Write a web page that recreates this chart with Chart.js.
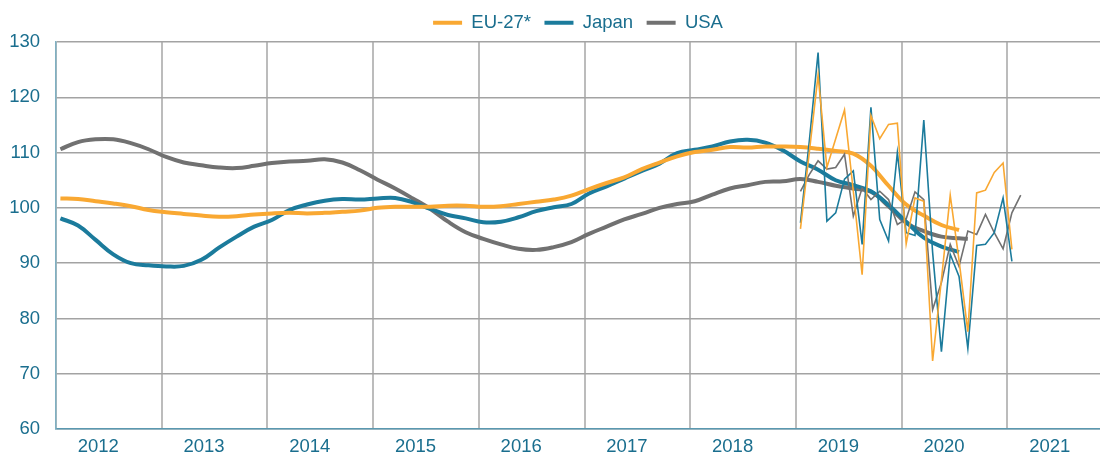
<!DOCTYPE html>
<html>
<head>
<meta charset="utf-8">
<script src="https://cdn.jsdelivr.net/npm/chart.js@4.4.1/dist/chart.umd.min.js"></script>
<style>
  html, body { margin: 0; padding: 0; background: #fff; }
</style>
</head>
<body>
<canvas id="chart" width="1100" height="455"></canvas>
<script>
// month index counted from Jan 2012 (0 = Jan 2012), points sit mid-month
const yearLabels = ['2012', '2013', '2014', '2015', '2016', '2017', '2018', '2019', '2020', '2021'];
const yearStarts = [0, 12, 24, 36, 48, 60, 72, 84, 96, 108];
const yTicks = [60, 70, 80, 90, 100, 110, 120, 130];

// smoothed trend, every second month
const trendMonths = [0, 2, 4, 6, 8, 10, 12, 14, 16, 18, 20, 22, 24, 26, 28, 30, 32, 34, 36, 38, 40, 42,
  44, 46, 48, 50, 52, 54, 56, 58, 60, 62, 64, 66, 68, 70, 72, 74, 76, 78, 80, 82, 84, 86, 88, 90, 92,
  94, 96, 98, 100, 102, 103];
const euTrend = [101.7, 101.6, 101.2, 100.8, 100.3, 99.6, 99.2, 98.9, 98.6, 98.4, 98.5, 98.8, 99.0,
  99.1, 99.0, 99.1, 99.3, 99.5, 100.0, 100.2, 100.2, 100.2, 100.4, 100.4, 100.2, 100.3, 100.7, 101.1,
  101.5, 102.2, 103.4, 104.5, 105.5, 107.0, 108.2, 109.3, 110.1, 110.5, 111.0, 110.9, 111.1, 111.1,
  111.0, 110.7, 110.3, 109.8, 107.6, 104.0, 100.6, 98.6, 96.9, 96.0, null];
const japanTrend = [98.1, 96.8, 94.2, 91.6, 90.0, 89.6, 89.4, 89.5, 90.6, 92.8, 94.8, 96.6, 97.8,
  99.6, 100.6, 101.3, 101.6, 101.5, 101.7, 101.8, 101.0, 99.8, 98.7, 98.1, 97.4, 97.5, 98.3, 99.4,
  100.1, 100.7, 102.6, 103.9, 105.3, 106.7, 108.0, 109.9, 110.5, 111.1, 112.0, 112.3, 111.8, 110.4,
  108.4, 106.9, 105.0, 104.1, 103.0, 100.5, 97.5, 94.6, 93.0, 92.0, null];
const usaTrend = [110.6, 111.9, 112.4, 112.4, 111.7, 110.6, 109.2, 108.2, 107.7, 107.3, 107.2, 107.6,
  108.1, 108.4, 108.5, 108.8, 108.2, 106.8, 105.1, 103.5, 101.7, 99.8, 97.5, 95.6, 94.4, 93.4, 92.6,
  92.4, 92.9, 93.8, 95.3, 96.6, 97.9, 98.9, 100.0, 100.7, 101.2, 102.4, 103.5, 104.1, 104.7, 104.8,
  105.2, 104.7, 104.0, 103.5, 102.9, 100.3, 97.3, 95.8, 94.8, 94.5, 94.4];

// monthly values, Jan 2019 - Feb 2021
const monthlyMonths = [84, 85, 86, 87, 88, 89, 90, 91, 92, 93, 94, 95, 96, 97, 98, 99, 100, 101, 102,
  103, 104, 105, 106, 107, 108, 109];
const euMonthly = [96.2, 110.0, 124.0, 107.3, 112.5, 117.7, 103.0, 87.9, 116.7, 112.5, 115.1, 115.3,
  93.5, 101.8, 101.2, 72.3, 87.0, 102.3, 90.5, 77.6, 102.7, 103.2, 106.4, 108.1, 92.5, null];
const japanMonthly = [97.3, 112.0, 128.1, 97.6, 99.1, 105.2, 106.7, 93.4, 118.2, 97.9, 94.0, 110.0,
  95.5, 95.0, 115.9, 92.0, 74.0, 91.6, 87.6, 74.6, 93.2, 93.4, 95.5, 101.8, 90.3, null];
const usaMonthly = [103.0, 106.0, 108.5, 107.0, 107.3, 109.7, 98.5, 103.6, 101.5, 103.0, 101.5, 97.0,
  98.0, 102.9, 101.5, 81.6, 86.5, 93.4, 89.4, 95.8, 95.2, 98.8, 95.5, 92.6, 99.1, 102.3];

const EU = '#f9a832';
const JP = '#1b7b9c';
const US = '#717171';
const TEXT = '#1a6e8e';
const FONT = { family: '"Liberation Sans", Arial, sans-serif', size: 18.5 };

function pts(months, vals) {
  return months.map((m, i) => ({ x: m + 0.5, y: vals[i] }));
}

function trend(label, color, vals) {
  return {
    label: label, data: pts(trendMonths, vals), borderColor: color, backgroundColor: color,
    borderWidth: 4, pointRadius: 0, tension: 0.4, order: 1
  };
}

function monthly(label, color, vals) {
  return {
    label: label, data: pts(monthlyMonths, vals), borderColor: color, backgroundColor: color,
    borderWidth: 1.6, pointRadius: 0, tension: 0, order: 0
  };
}

const ctx = document.getElementById('chart').getContext('2d');
new Chart(ctx, {
  type: 'line',
  data: {
    datasets: [
      trend('EU-27*', EU, euTrend),
      trend('Japan', JP, japanTrend),
      trend('USA', US, usaTrend),
      monthly('EU-27* monthly', EU, euMonthly),
      monthly('Japan monthly', JP, japanMonthly),
      monthly('USA monthly', US, usaMonthly)
    ]
  },
  options: {
    responsive: false,
    animation: false,
    layout: { padding: 0 },
    plugins: {
      tooltip: { enabled: false },
      legend: {
        fullSize: false,
        labels: {
          boxWidth: 29,
          boxHeight: 4,
          padding: 13.5,
          color: TEXT,
          font: FONT,
          generateLabels: chart => chart.data.datasets.slice(0, 3).map((ds, i) => ({
            text: ds.label, fillStyle: ds.borderColor, strokeStyle: ds.borderColor,
            lineWidth: 0, fontColor: TEXT, datasetIndex: i, hidden: false
          }))
        }
      }
    },
    scales: {
      x: {
        type: 'linear', min: 0, max: 118.5,
        grid: { color: '#bcbcbc', lineWidth: 2, drawTicks: false },
        border: { color: '#5a98b0', width: 1.5 },
        ticks: { display: false },
        afterBuildTicks: s => { s.ticks = yearStarts.map(v => ({ value: v })); },
        afterFit: s => { s.height = 0; }
      },
      xYears: {
        type: 'linear', position: 'bottom', min: 0, max: 118.5,
        grid: { display: false, drawTicks: false },
        border: { display: false },
        ticks: {
          autoSkip: false, maxRotation: 0, padding: 7, color: TEXT, font: FONT,
          callback: (v, i) => yearLabels[i]
        },
        afterBuildTicks: s => { s.ticks = yearStarts.map(v => ({ value: v + 4.8 })); },
        afterFit: s => { s.height = 26; }
      },
      y: {
        min: 60, max: 130,
        grid: { color: '#a3a3a3', lineWidth: 1.5, drawTicks: false },
        border: { color: '#7fb0c2', width: 1.5 },
        ticks: { padding: 16, color: TEXT, font: FONT },
        afterBuildTicks: s => { s.ticks = yTicks.map(v => ({ value: v })); },
        afterFit: s => { s.width = 56; s.paddingTop = 0; s.paddingBottom = 0; }
      }
    }
  }
});
</script>
</body>
</html>
